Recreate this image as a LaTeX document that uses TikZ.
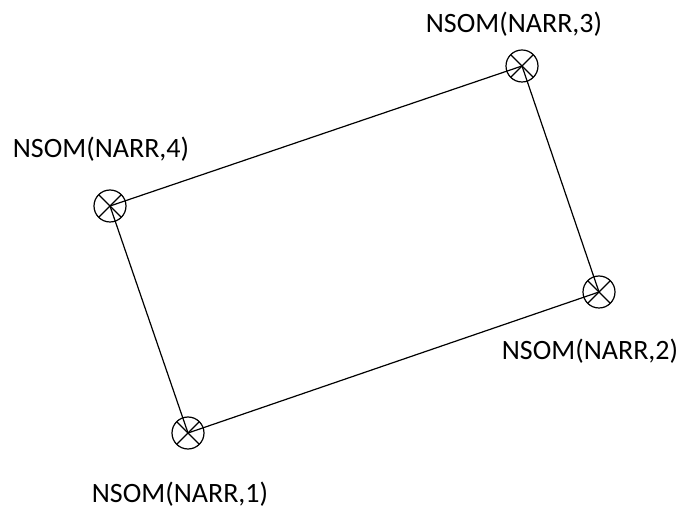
\documentclass[tikz,border=0pt]{standalone}
\usepackage{fontspec}
\setmainfont{Carlito}
\begin{document}
\begin{tikzpicture}[x=1pt,y=1pt,
  xnode/.style={draw, circle, line width=1.2pt, minimum size=32pt, inner sep=0pt,
    path picture={\draw[line width=1.2pt] (path picture bounding box.north west) -- (path picture bounding box.south east)
      (path picture bounding box.north east) -- (path picture bounding box.south west);}},
  lbl/.style={anchor=base, inner sep=0pt, font=\fontsize{28}{34}\selectfont},
  edge/.style={line width=1.2pt}]
\useasboundingbox (0,0) rectangle (681,509);
\node[xnode] (n1) at (188,76) {};
\node[xnode] (n2) at (599,217) {};
\node[xnode] (n3) at (522,443) {};
\node[xnode] (n4) at (110,303) {};
\draw[edge] (n1.center) -- (n2.center) -- (n3.center) -- (n4.center) -- (n1.center);
\node[lbl] (l1) at (180,6) {NSOM(NARR,1)};
\node[lbl] (l2) at (590,149) {NSOM(NARR,2)};
\node[lbl] (l3) at (514,476) {NSOM(NARR,3)};
\node[lbl] (l4) at (101,351) {NSOM(NARR,4)};
\end{tikzpicture}
\end{document}
